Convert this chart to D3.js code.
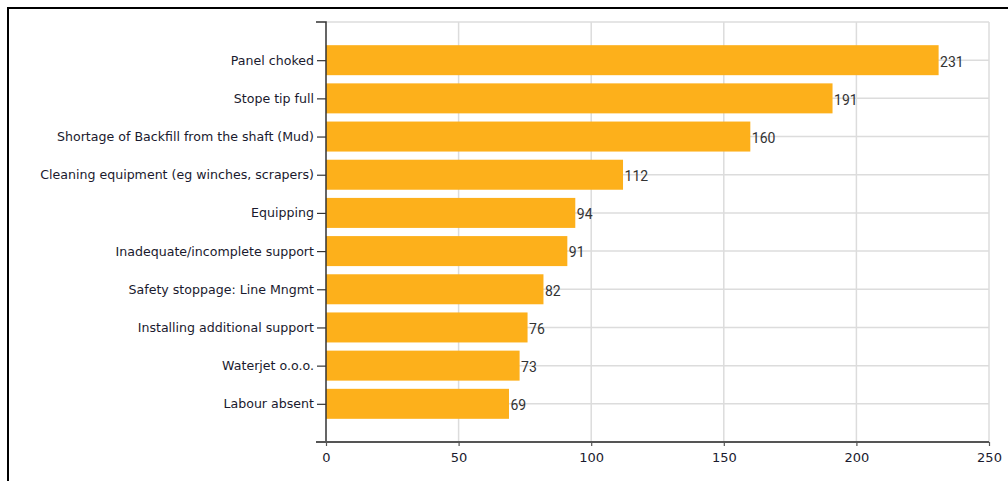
<!DOCTYPE html>
<html><head><meta charset="utf-8">
<script src="https://cdn.jsdelivr.net/npm/d3@7"></script>
<style>
html,body{margin:0;padding:0;background:#fff;overflow:hidden;}
svg{display:block;}
</style></head>
<body>
<svg id="chart" width="1008" height="481"></svg>
<script>
const categories = ["Panel choked","Stope tip full","Shortage of Backfill from the shaft (Mud)","Cleaning equipment (eg winches, scrapers)","Equipping","Inadequate/incomplete support","Safety stoppage: Line Mngmt","Installing additional support","Waterjet o.o.o.","Labour absent"];
const values = [231,191,160,112,94,91,82,76,73,69];
const xTicks = [0,50,100,150,200,250];

const svg = d3.select("#chart");
svg.append("rect").attr("x",8).attr("y",8).attr("width",1010).attr("height",490)
  .attr("fill","none").attr("stroke","#000").attr("stroke-width",2);

const pL=326, pR=989, pT=22, pB=442;
const x = d3.scaleLinear().domain([0,250]).range([pL,pR]);
const y = d3.scalePoint().domain(categories).range([pT,pB]).padding(1);
const barH = 30;

const g = svg.append("g");
// grid
g.selectAll("line.vg").data(xTicks.slice(1)).join("line")
  .attr("x1",d=>x(d)).attr("x2",d=>x(d)).attr("y1",pT).attr("y2",pB)
  .attr("stroke","#dcdcdc").attr("stroke-width",1.5);
const hg = [pT].concat(categories.map(c=>y(c)));
g.selectAll("line.hg").data(hg).join("line")
  .attr("x1",pL).attr("x2",pR).attr("y1",d=>d).attr("y2",d=>d)
  .attr("stroke","#dcdcdc").attr("stroke-width",1.5);

// bars
g.selectAll("rect.bar").data(values).join("rect")
  .attr("x",x(0)).attr("y",(d,i)=>y(categories[i])-barH/2)
  .attr("width",d=>x(d)-x(0)).attr("height",barH)
  .attr("fill","#FDB01B");

// value labels
g.selectAll("text.val").data(values).join("text")
  .attr("x",d=>x(d)+1.5).attr("y",(d,i)=>y(categories[i])+1.5)
  .attr("dy","0.35em")
  .attr("font-family","Roboto, sans-serif").attr("font-size",14)
  .attr("fill","#333").text(d=>d);

// y axis
const yAxis = d3.axisLeft(y).tickSize(9).tickPadding(3);
const ya = svg.append("g").attr("transform",`translate(${pL},0)`).call(yAxis);
ya.select(".domain").attr("d",`M-10,${pT}H0V${pB}`).attr("stroke","#333").attr("stroke-width",1.5);
ya.selectAll(".tick line").attr("stroke","#333").attr("stroke-width",1.2);
ya.selectAll(".tick text").attr("font-family","'DejaVu Sans', sans-serif")
  .attr("font-size",12.6).attr("fill","#1a1a2e");

// x axis
const xAxis = d3.axisBottom(x).tickValues(xTicks).tickSize(4).tickPadding(7).tickFormat(d3.format("d"));
const xa = svg.append("g").attr("transform",`translate(0,${pB})`).call(xAxis);
xa.select(".domain").attr("d",`M${pL-10},0H${pR}`).attr("stroke","#555").attr("stroke-width",2);
xa.selectAll(".tick line").attr("stroke","#555").attr("stroke-width",1.2);
xa.selectAll(".tick text").attr("font-family","'DejaVu Sans', sans-serif")
  .attr("font-size",13).attr("fill","#1a1a2e");
</script>
</body></html>
